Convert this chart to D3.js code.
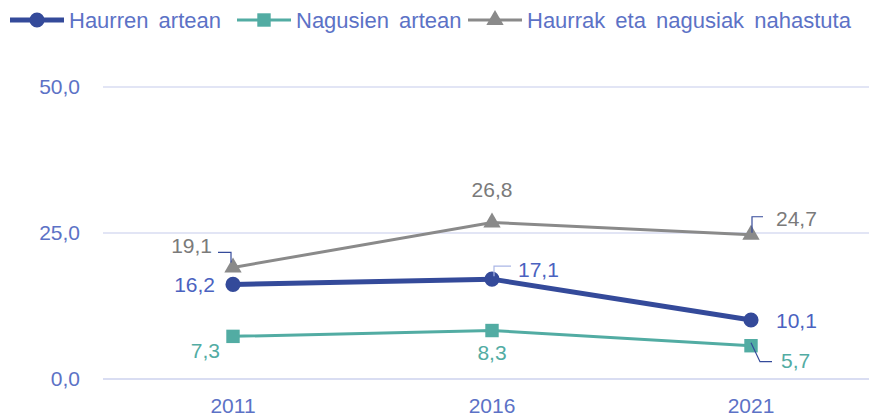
<!DOCTYPE html>
<html>
<head>
<meta charset="utf-8">
<script src="https://cdn.jsdelivr.net/npm/d3@7"></script>
<style>
body { margin: 0; background: #fff; }
svg text { font-family: "Liberation Sans", Arial, sans-serif; }
</style>
</head>
<body>
<div class="viz1"></div>
<script>
// data
var years = ["2011", "2016", "2021"];
var seriesNames = ["Haurren artean", "Nagusien artean", "Haurrak eta nagusiak nahastuta"];
var haurren = [16.2, 17.1, 10.1];
var nagusien = [7.3, 8.3, 5.7];
var nahastuta = [19.1, 26.8, 24.7];
var yTicks = [0, 25, 50];

var w = 869;
var h = 416;

var colors = ["#344a9a", "#52aca3", "#8a8a8a"];
var axisColor = "#5c72c6";

var series = [
    { name: seriesNames[0], values: haurren, color: colors[0], width: 5, symbol: d3.symbolCircle, size: 180 },
    { name: seriesNames[1], values: nagusien, color: colors[1], width: 3, symbol: d3.symbolSquare, size: 180 },
    { name: seriesNames[2], values: nahastuta, color: colors[2], width: 3, symbol: d3.symbolTriangle, size: 130 }
];

var xScale = d3.scalePoint()
    .domain(years)
    .range([233, 751]);

var yScale = d3.scaleLinear()
    .domain([0, 50])
    .range([379, 87]);

var svg = d3.select(".viz1")
    .append("svg")
    .attr("width", w)
    .attr("height", h);

//gridlines
svg.selectAll("line.grid")
    .data(yTicks)
    .enter()
    .append("line")
    .attr("class", "grid")
    .attr("x1", 103)
    .attr("x2", 869)
    .attr("y1", function(d) { return yScale(d); })
    .attr("y2", function(d) { return yScale(d); })
    .attr("stroke", "#d9ddf2")
    .attr("stroke-width", function(d) { return d === 0 ? 2 : 1.3; });

var fmt = function(v) { return d3.format(".1f")(v).replace(".", ","); };

svg.selectAll("text.ytick")
    .data(yTicks)
    .enter()
    .append("text")
    .attr("class", "ytick")
    .attr("x", 80)
    .attr("y", function(d) { return yScale(d) + 7; })
    .attr("text-anchor", "end")
    .attr("font-size", "21px")
    .attr("fill", axisColor)
    .text(fmt);

svg.selectAll("text.xtick")
    .data(years)
    .enter()
    .append("text")
    .attr("class", "xtick")
    .attr("x", function(d) { return xScale(d); })
    .attr("y", 413)
    .attr("text-anchor", "middle")
    .attr("font-size", "21px")
    .attr("fill", axisColor)
    .text(function(d) { return d; });

var line = d3.line()
    .x(function(d, i) { return xScale(years[i]); })
    .y(function(d) { return yScale(d); });

// draw grey first, then teal, then blue on top
[2, 1, 0].forEach(function(k) {
    var s = series[k];
    svg.append("path")
        .datum(s.values)
        .attr("d", line)
        .attr("fill", "none")
        .attr("stroke", s.color)
        .attr("stroke-width", s.width);
    svg.selectAll("path.pt" + k)
        .data(s.values)
        .enter()
        .append("path")
        .attr("class", "pt" + k)
        .attr("d", d3.symbol().type(s.symbol).size(s.size))
        .attr("transform", function(d, i) {
            return "translate(" + xScale(years[i]) + "," + yScale(d) + ")";
        })
        .attr("fill", s.color);
});

// data labels: offsets from the point [dx, dy, anchor], leader as point offsets
var labelPos = [
    [[-18, 8, "end"], [26, -2, "start"], [25, 8, "start"]],
    [[-13, 22, "end"], [0, 29, "middle"], [30, 22, "start"]],
    [[-21, -14, "end"], [0, -25, "middle"], [25, -9, "start"]]
];
var leaders = [
    [null, [[19, -13], [2, -13], [2, -3]], null],
    [null, null, [[0, -3], [9, 16], [21, 16]]],
    [[[-15, -15], [-2, -15], [-2, -5]], null, [[12, -18], [1, -18], [1, -2]]]
];
var leaderColors = ["#aab6e6", "#344a9a", "#344a9a"];
var labelColors = ["#4a62c0", "#52aca3", "#7a7a7a"];

series.forEach(function(s, k) {
    s.values.forEach(function(v, i) {
        var p = labelPos[k][i];
        var px = xScale(years[i]), py = yScale(v);
        var ld = leaders[k][i];
        if (ld) {
            svg.append("path")
                .attr("d", d3.line()(ld.map(function(q) { return [px + q[0], py + q[1]]; })))
                .attr("fill", "none")
                .attr("stroke", leaderColors[k])
                .attr("stroke-width", 1.2);
        }
        svg.append("text")
            .attr("x", px + p[0])
            .attr("y", py + p[1])
            .attr("text-anchor", p[2])
            .attr("font-size", "21px")
            .attr("fill", labelColors[k])
            .text(fmt(v));
    });
});

// legend
var legendX = [10, 237, 468];
series.forEach(function(s, k) {
    var g = svg.append("g").attr("transform", "translate(" + legendX[k] + ",20)");
    g.append("line")
        .attr("x1", 0).attr("x2", 54)
        .attr("stroke", s.color)
        .attr("stroke-width", s.width);
    g.append("path")
        .attr("d", d3.symbol().type(s.symbol).size(s.size))
        .attr("transform", "translate(27,0)")
        .attr("fill", s.color);
    g.append("text")
        .attr("x", 59)
        .attr("y", 8)
        .attr("font-size", "22px")
        .attr("word-spacing", "4px")
        .attr("fill", axisColor)
        .text(s.name);
});
</script>
</body>
</html>
